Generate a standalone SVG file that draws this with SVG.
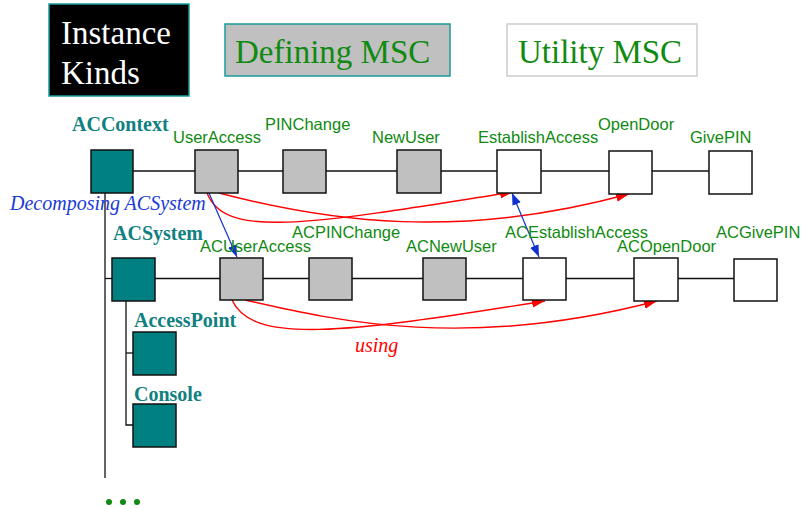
<svg xmlns="http://www.w3.org/2000/svg" width="804" height="508" viewBox="0 0 804 508">
  <style>
    .box { stroke: #111; stroke-width: 1.5; }
    .kind { fill: #008080; }
    .def { fill: #c0c0c0; }
    .util { fill: #ffffff; }
    .lbl { font-family: "Liberation Sans", Arial, sans-serif; font-size: 16.5px; fill: #108a10; }
    .kname { font-family: "Liberation Serif", "Times New Roman", serif; font-size: 20px; font-weight: bold; fill: #108080; }
    .legend { font-family: "Liberation Serif", "Times New Roman", serif; font-size: 33px; }
    .life { stroke: #111; stroke-width: 1.3; fill: none; }
    .use { stroke: #ff0000; stroke-width: 1.4; fill: none; marker-end: url(#redHead); }
    .dec { stroke: #1030d0; stroke-width: 1.2; fill: none; marker-end: url(#blueHead); }
    .note { font-family: "Liberation Serif", "Times New Roman", serif; font-size: 20px; font-style: italic; }
  </style>
  <defs>
    <marker id="redHead" markerUnits="userSpaceOnUse" markerWidth="14" markerHeight="10" refX="13" refY="4.5" orient="auto">
      <path d="M0,0 L13,4.5 L0,9 z" fill="#ff0000"/>
    </marker>
    <marker id="blueHead" markerUnits="userSpaceOnUse" markerWidth="13" markerHeight="10" refX="12" refY="4.5" orient="auto-start-reverse">
      <path d="M0,0 L12,4.5 L0,9 z" fill="#1030d0"/>
    </marker>
  </defs>

  <!-- legend -->
  <g id="legend-instance-kinds">
    <rect x="49" y="4" width="140" height="92" fill="#000" stroke="#1a9a9a" stroke-width="1.5"/>
    <text class="legend" x="61" y="44" fill="#fff">Instance</text>
    <text class="legend" x="61" y="84" fill="#fff">Kinds</text>
  </g>
  <g id="legend-defining">
    <rect x="225" y="24" width="225" height="52" fill="#c0c0c0" stroke="#1a9a9a" stroke-width="1.5"/>
    <text class="legend" x="235" y="63" fill="#108a10">Defining MSC</text>
  </g>
  <g id="legend-utility">
    <rect x="507" y="24" width="190" height="52" fill="#fff" stroke="#cccccc" stroke-width="1.5"/>
    <text class="legend" x="518" y="63" fill="#108a10">Utility MSC</text>
  </g>

  <!-- connectors -->
  <g id="connectors">
    <!-- instance lines -->
    <line class="life" x1="133" y1="171" x2="709" y2="171"/>
    <line class="life" x1="155" y1="278.5" x2="734" y2="278.5"/>
    <!-- decomposition tree -->
    <polyline class="life" points="105,193 105,478"/>
    <line class="life" x1="105" y1="278.5" x2="112" y2="278.5"/>
    <polyline class="life" points="126,301 126,425 133,425"/>
    <line class="life" x1="126" y1="353" x2="133" y2="353"/>
    <!-- using references, upper level -->
    <path class="use" d="M207,193 C225,238 300,226 513,192"/>
    <path class="use" d="M219,193 C330,222 460,240 629,194"/>
    <!-- using references, lower level -->
    <path class="use" d="M232,300 C252,344 340,334 545,301"/>
    <path class="use" d="M245,300 C340,322 470,350 657,301"/>
    <!-- decomposition links -->
    <line class="dec" x1="209" y1="193" x2="237" y2="257"/>
    <line class="dec" x1="512" y1="193" x2="539" y2="257" marker-start="url(#blueHead)"/>
  </g>

  <!-- upper level -->
  <g id="ACContext">
    <rect class="box kind" x="91" y="150" width="42" height="43"/>
    <text class="kname" x="72" y="131">ACContext</text>
  </g>
  <g id="UserAccess">
    <rect class="box def" x="195" y="150" width="43" height="43"/>
    <text class="lbl" x="173" y="143">UserAccess</text>
  </g>
  <g id="PINChange">
    <rect class="box def" x="283" y="150" width="43" height="43"/>
    <text class="lbl" x="265" y="130">PINChange</text>
  </g>
  <g id="NewUser">
    <rect class="box def" x="397" y="150" width="44" height="43"/>
    <text class="lbl" x="372" y="143">NewUser</text>
  </g>
  <g id="EstablishAccess">
    <rect class="box util" x="497" y="150" width="44" height="43"/>
    <text class="lbl" x="478" y="143">EstablishAccess</text>
  </g>
  <g id="OpenDoor">
    <rect class="box util" x="609" y="151" width="43" height="43"/>
    <text class="lbl" x="598" y="130">OpenDoor</text>
  </g>
  <g id="GivePIN">
    <rect class="box util" x="709" y="151" width="43" height="43"/>
    <text class="lbl" x="690" y="143">GivePIN</text>
  </g>

  <!-- lower level -->
  <g id="ACSystem">
    <rect class="box kind" x="112" y="258" width="43" height="43"/>
    <text class="kname" x="113" y="240">ACSystem</text>
  </g>
  <g id="ACUserAccess">
    <rect class="box def" x="220" y="258" width="43" height="42"/>
    <text class="lbl" x="200" y="252">ACUserAccess</text>
  </g>
  <g id="ACPINChange">
    <rect class="box def" x="309" y="258" width="43" height="42"/>
    <text class="lbl" x="292" y="238">ACPINChange</text>
  </g>
  <g id="ACNewUser">
    <rect class="box def" x="423" y="258" width="43" height="42"/>
    <text class="lbl" x="406" y="252">ACNewUser</text>
  </g>
  <g id="ACEstablishAccess">
    <rect class="box util" x="523" y="258" width="43" height="42"/>
    <text class="lbl" x="505" y="238">ACEstablishAccess</text>
  </g>
  <g id="ACOpenDoor">
    <rect class="box util" x="634" y="258" width="44" height="43"/>
    <text class="lbl" x="617" y="252">ACOpenDoor</text>
  </g>
  <g id="ACGivePIN">
    <rect class="box util" x="734" y="259" width="43" height="42"/>
    <text class="lbl" x="716" y="238">ACGivePIN</text>
  </g>

  <!-- parts of ACSystem -->
  <g id="AccessPoint">
    <rect class="box kind" x="133" y="332" width="43" height="43"/>
    <text class="kname" x="134" y="327">AccessPoint</text>
  </g>
  <g id="Console">
    <rect class="box kind" x="133" y="404" width="43" height="43"/>
    <text class="kname" x="134" y="401">Console</text>
  </g>

  <!-- annotations -->
  <text class="note" x="10" y="210" fill="#1a3ad6">Decomposing ACSystem</text>
  <text class="note" x="355" y="352" fill="#ff0000">using</text>
  <g id="more" fill="#108a10">
    <circle cx="109" cy="502" r="3"/>
    <circle cx="123" cy="502" r="3"/>
    <circle cx="137" cy="502" r="3"/>
  </g>
</svg>
